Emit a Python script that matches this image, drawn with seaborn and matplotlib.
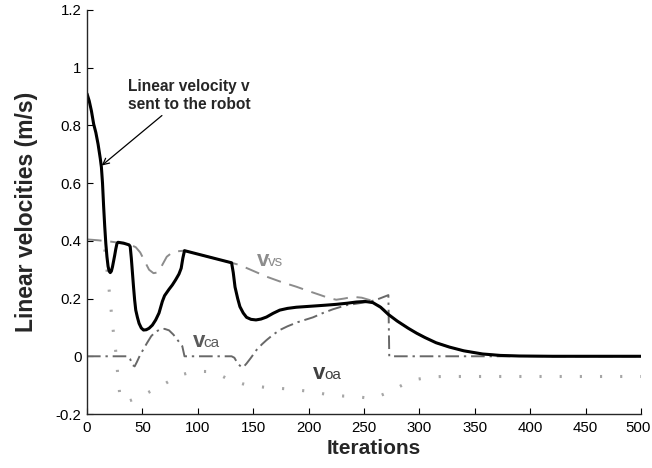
import matplotlib
matplotlib.use("Agg")
import matplotlib.pyplot as plt
import matplotlib.transforms as mtransforms
import numpy as np
import pandas as pd
import seaborn as sns

# ---- data ----
v_x = [0, 2, 4, 6, 8, 10, 12, 13, 14, 15, 16, 17, 18, 19, 20, 21, 22, 23, 24, 25, 26, 27, 28,
       33, 38, 39, 40, 41, 42, 43, 44, 45.5, 47, 49, 51, 53.5, 56, 59, 62, 65, 68, 70, 74, 77,
       80, 83, 85, 86.5, 88, 130.5, 132, 133.6, 136, 138, 141, 144, 148, 152.5, 157, 162, 168,
       174, 181, 189, 204, 215, 225, 235, 243, 251, 258, 265, 272, 280, 290, 297.5, 305, 315,
       327, 340, 357, 373, 390, 420, 500]
v_y = [0.91, 0.885, 0.85, 0.805, 0.775, 0.735, 0.685, 0.655, 0.60, 0.52, 0.45, 0.39, 0.345,
       0.312, 0.295, 0.29, 0.295, 0.31, 0.33, 0.35, 0.372, 0.39, 0.395,
       0.392, 0.386, 0.38, 0.34, 0.29, 0.24, 0.195, 0.16, 0.135, 0.114, 0.098, 0.091, 0.092,
       0.097, 0.108, 0.126, 0.15, 0.19, 0.21, 0.232, 0.247,
       0.265, 0.285, 0.305, 0.34, 0.366, 0.324, 0.29, 0.24, 0.20, 0.172, 0.15, 0.135, 0.128,
       0.126, 0.129, 0.136, 0.149,
       0.16, 0.166, 0.17, 0.174, 0.177, 0.18, 0.184, 0.188, 0.19, 0.186, 0.17, 0.145, 0.122,
       0.097, 0.08, 0.065, 0.047,
       0.032, 0.019, 0.008, 0.003, 0.001, 0.0, 0.0]

vvs_x = [0, 10, 20, 28, 35, 40, 44, 48, 52, 56, 60, 63, 67, 72, 77, 82, 88, 130.5, 138, 150,
         162, 175, 189, 200, 210, 219, 225, 232, 240, 248, 255, 262, 268, 272, 280, 290, 297.5,
         305, 315, 327, 340, 357, 373, 390, 420, 500]
vvs_y = [0.405, 0.402, 0.398, 0.394, 0.39, 0.385, 0.378, 0.36, 0.33, 0.30, 0.288, 0.29, 0.31,
         0.345, 0.36, 0.364, 0.366, 0.324, 0.316, 0.296,
         0.276, 0.258, 0.241, 0.226, 0.213, 0.201, 0.196, 0.20, 0.206, 0.203, 0.195, 0.18,
         0.162, 0.145, 0.122, 0.097, 0.08,
         0.065, 0.047, 0.032, 0.019, 0.008, 0.003, 0.001, 0.0, 0.0]

vca_x = [0, 37, 39, 41, 43, 45, 48, 51, 54, 58, 62, 66, 70, 74, 78, 82, 86, 88, 130.5, 133,
         136, 139, 141, 144, 148, 153, 158, 162, 168, 174, 181, 190, 204, 213, 222, 234, 246,
         256, 264, 272, 272.8, 382]
vca_y = [0.0, 0.0, -0.01, -0.03, -0.035, -0.02, 0.005, 0.025, 0.045, 0.07, 0.085, 0.093,
         0.095, 0.09, 0.075, 0.055, 0.035, 0.0, 0.0, -0.005,
         -0.025, -0.036, -0.038, -0.025, -0.005, 0.022, 0.042, 0.056, 0.075, 0.091, 0.104,
         0.118, 0.135, 0.15, 0.163, 0.177, 0.184,
         0.19, 0.2, 0.212, 0.0, 0.0]

voa_x = [16, 18.3, 20.8, 23, 25.8, 27.8, 29.5, 31, 35, 40, 48, 57, 66, 76, 86, 98, 110, 120,
         129, 140, 150, 162, 174, 186, 197, 210, 220, 232, 243, 250, 256, 262, 270, 278, 288,
         299, 310, 320, 500]
voa_y = [0.37, 0.29, 0.2, 0.11, 0.022, -0.065, -0.13, -0.155, -0.158, -0.152, -0.14, -0.122,
         -0.105, -0.082, -0.063, -0.052, -0.053, -0.065,
         -0.082, -0.095, -0.103, -0.108, -0.111, -0.115, -0.12, -0.128, -0.134, -0.138, -0.14,
         -0.143, -0.146, -0.14, -0.128, -0.113, -0.093,
         -0.079, -0.072, -0.07, -0.07]

x_ticks = [0, 50, 100, 150, 200, 250, 300, 350, 400, 450, 500]
y_ticks = [-0.2, 0, 0.2, 0.4, 0.6, 0.8, 1.0, 1.2]
y_tick_labels = ["-0.2", "0", "0.2", "0.4", "0.6", "0.8", "1", "1.2"]

# ---- style ----
sns.set_style("ticks")
plt.rcParams["font.family"] = ["Liberation Sans", "DejaVu Sans"]
plt.rcParams["axes.linewidth"] = 1.0

fig = plt.figure(figsize=(6.52, 4.68), dpi=100)
ax = fig.add_axes([87 / 652, 54 / 468, 554 / 652, 404 / 468])

df_oa = pd.DataFrame({"x": voa_x, "y": voa_y})
df_ca = pd.DataFrame({"x": vca_x, "y": vca_y})
df_vs = pd.DataFrame({"x": vvs_x, "y": vvs_y})
df_v = pd.DataFrame({"x": v_x, "y": v_y})

sns.lineplot(data=df_oa, x="x", y="y", ax=ax, color="#a6a6a6", lw=2.2,
             linestyle=(0, (0.7, 5.9)), sort=False, estimator=None)
sns.lineplot(data=df_ca, x="x", y="y", ax=ax, color="#686868", lw=1.4,
             linestyle=(0, (7, 2.5, 1.2, 2.5)), sort=False, estimator=None)
sns.lineplot(data=df_vs, x="x", y="y", ax=ax, color="#8c8c8c", lw=1.4,
             linestyle=(0, (7.5, 4.5)), sort=False, estimator=None)
sns.lineplot(data=df_v, x="x", y="y", ax=ax, color="black", lw=2.2,
             sort=False, estimator=None)

ax.set_xlim(0, 500)
ax.set_ylim(-0.2, 1.2)
ax.set_xticks(x_ticks)
ax.set_xticklabels([str(t) for t in x_ticks])
ax.set_yticks(y_ticks)
ax.set_yticklabels(y_tick_labels)
ax.tick_params(direction="in", length=4, width=0.8, labelsize=10.8, colors="black")
ax.tick_params(axis="x", pad=5)
ax.tick_params(axis="y", pad=4)
sns.despine(ax=ax)

# keep the last x tick label inside the figure
last_lbl = ax.get_xticklabels()[-1]
last_lbl.set_transform(last_lbl.get_transform() +
                       mtransforms.ScaledTranslation(-3 / 100, 0, fig.dpi_scale_trans))

ax.set_xlabel("Iterations", fontsize=15, fontweight="bold")
ax.xaxis.set_label_coords(0.518, -0.063)
ax.set_ylabel("Linear velocities (m/s)", fontsize=16.5, fontweight="bold")
ax.yaxis.set_label_coords(-0.089, 0.5)

# series labels
def series_label(x, y, sub, color):
    ax.text(x, y, "v", fontsize=16, fontweight="bold", color=color, ha="left", va="baseline")
    ax.annotate(sub, xy=(x, y), xytext=(8.0, 0), textcoords="offset points",
                fontsize=11, color=color, ha="left", va="baseline")

series_label(153.4, 0.314, "vs", "#8c8c8c")
series_label(95.4, 0.031, "ca", "#5a5a5a")
series_label(204.0, -0.079, "oa", "#404040")

ax.annotate("Linear velocity v\nsent to the robot", xy=(13.3, 0.661), xytext=(37.3, 0.96),
            textcoords="data", fontsize=11.2, fontweight="bold", ha="left", va="top",
            linespacing=1.25,
            arrowprops=dict(arrowstyle="->", color="black", lw=0.9,
                            shrinkA=0, shrinkB=0, relpos=(0.29, -0.05)))

fig.savefig("out.png", dpi=100)
